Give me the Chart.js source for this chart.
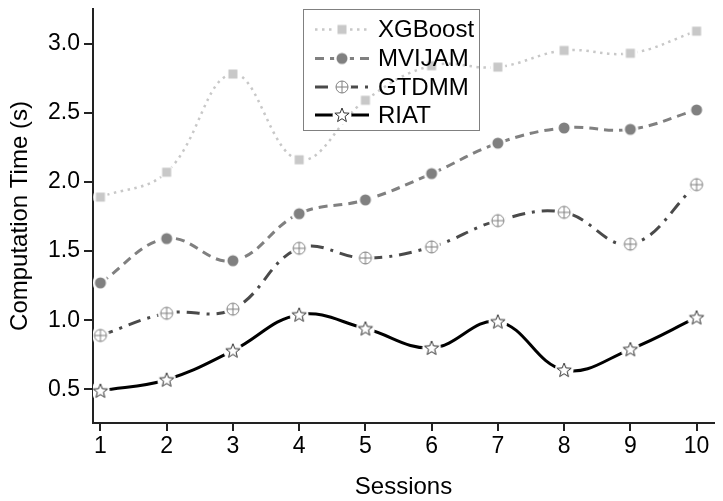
<!DOCTYPE html>
<html><head><meta charset="utf-8">
<script src="https://cdn.jsdelivr.net/npm/chart.js@4/dist/chart.umd.min.js"></script>
<style>html,body{margin:0;padding:0;background:#fff;} #wrap{width:723px;height:501px;position:relative;}</style>
</head><body><div id="wrap"><canvas id="c" width="723" height="501"></canvas></div>
<script>
const sessions = [1, 2, 3, 4, 5, 6, 7, 8, 9, 10];
const xgboost = [1.89, 2.07, 2.78, 2.16, 2.59, 2.84, 2.83, 2.95, 2.93, 3.09];
const mvijam  = [1.27, 1.59, 1.43, 1.77, 1.87, 2.06, 2.28, 2.39, 2.38, 2.52];
const gtdmm   = [0.89, 1.05, 1.08, 1.52, 1.45, 1.53, 1.72, 1.78, 1.55, 1.98];
const riat    = [0.49, 0.57, 0.78, 1.04, 0.94, 0.80, 0.99, 0.64, 0.79, 1.02];
const yTicks = [0.5, 1.0, 1.5, 2.0, 2.5, 3.0];
const seriesNames = ['XGBoost', 'MVIJAM', 'GTDMM', 'RIAT'];

function makeMarker(kind) {
  const s = 24, c = document.createElement('canvas');
  c.width = s; c.height = s;
  const g = c.getContext('2d'), m = s / 2;
  g.fillStyle = '#fff';
  g.beginPath();
  const halo = {square: 7.5, circle: 8, cplus: 9, star: 9.5}[kind];
  g.arc(m, m, halo, 0, Math.PI * 2); g.fill();
  if (kind === 'square') {
    g.fillStyle = '#c8c8c8';
    g.fillRect(m - 4.5, m - 4.5, 9, 9);
  } else if (kind === 'circle') {
    g.fillStyle = '#808080';
    g.beginPath(); g.arc(m, m, 5.5, 0, Math.PI * 2); g.fill();
  } else if (kind === 'cplus') {
    g.strokeStyle = '#808080'; g.lineWidth = 1;
    g.beginPath(); g.arc(m, m, 6, 0, Math.PI * 2); g.stroke();
    g.beginPath(); g.moveTo(m - 6, m); g.lineTo(m + 6, m); g.moveTo(m, m - 6); g.lineTo(m, m + 6); g.stroke();
  } else if (kind === 'star') {
    g.strokeStyle = '#333'; g.lineWidth = 1; g.fillStyle = '#fff';
    g.beginPath();
    for (let i = 0; i < 10; i++) {
      const r = i % 2 === 0 ? 7.5 : 3.2;
      const a = -Math.PI / 2 + i * Math.PI / 5;
      const px = m + r * Math.cos(a), py = m + 0.5 + r * Math.sin(a);
      if (i === 0) g.moveTo(px, py); else g.lineTo(px, py);
    }
    g.closePath(); g.fill(); g.stroke();
  }
  return c;
}

const styles = [
  {color: '#c8c8c8', dash: [2.5, 4.5], width: 2.5, marker: makeMarker('square')},
  {color: '#808080', dash: [9, 6], width: 3, marker: makeMarker('circle')},
  {color: '#4a4a4a', dash: [13, 7, 3, 7], width: 3, marker: makeMarker('cplus')},
  {color: '#000000', dash: [], width: 3, marker: makeMarker('star')}
];
const seriesValues = [xgboost, mvijam, gtdmm, riat];

const datasets = seriesNames.map((name, i) => ({
  label: name,
  data: sessions.map((s, j) => ({x: s, y: seriesValues[i][j]})),
  borderColor: styles[i].color,
  borderDash: styles[i].dash,
  borderWidth: styles[i].width,
  pointStyle: styles[i].marker,
  pointRadius: 6,
  tension: 0.4,
  fill: false,
  order: 3 - i
}));

const legendPlugin = {
  id: 'boxLegend',
  afterDraw(chart) {
    const ctx = chart.ctx;
    ctx.save();
    ctx.setLineDash([]);
    ctx.strokeStyle = '#808080'; ctx.lineWidth = 1;
    ctx.strokeRect(303.5, 9.5, 176, 121);
    const rows = [29.5, 58.5, 87, 115];
    seriesNames.forEach((name, i) => {
      const y = rows[i];
      ctx.setLineDash(styles[i].dash);
      ctx.strokeStyle = styles[i].color; ctx.lineWidth = styles[i].width;
      ctx.beginPath(); ctx.moveTo(315, y); ctx.lineTo(369, y); ctx.stroke();
      ctx.setLineDash([]);
      const mk = styles[i].marker;
      ctx.drawImage(mk, 342 - mk.width / 2, y - mk.height / 2);
      ctx.fillStyle = '#000';
      ctx.font = '24px "Liberation Sans", Arial, sans-serif';
      ctx.textBaseline = 'middle'; ctx.textAlign = 'left';
      ctx.fillText(name, 378, y + 1);
    });
    ctx.restore();
  }
};

new Chart(document.getElementById('c'), {
  type: 'line',
  data: {datasets},
  plugins: [legendPlugin],
  options: {
    responsive: false,
    animation: false,
    devicePixelRatio: 1,
    layout: {padding: {top: 8, left: 0, right: 0, bottom: 0}},
    plugins: {legend: {display: false}, tooltip: {enabled: false}},
    scales: {
      x: {
        type: 'linear', min: 0.888, max: 10.263,
        afterBuildTicks: sc => { sc.ticks = sessions.map(v => ({value: v})); },
        afterFit: sc => { sc.height = 78; sc.paddingLeft = 0; sc.paddingRight = 0; },
        ticks: {color: '#000', font: {family: '"Liberation Sans", Arial, sans-serif', size: 23}, padding: 2, autoSkip: false, maxRotation: 0,
          callback: v => String(v)},
        grid: {drawOnChartArea: false, drawTicks: true, tickLength: 8, color: '#222', lineWidth: 2},
        border: {display: true, color: '#222', width: 2},
        title: {display: true, text: 'Sessions', color: '#000', font: {family: '"Liberation Sans", Arial, sans-serif', size: 24}, padding: {top: 0, bottom: -1}}
      },
      y: {
        type: 'linear', min: 0.257, max: 3.25,
        afterBuildTicks: sc => { sc.ticks = yTicks.map(v => ({value: v})); },
        afterFit: sc => { sc.width = 93; sc.paddingTop = 0; sc.paddingBottom = 0; },
        ticks: {color: '#000', font: {family: '"Liberation Sans", Arial, sans-serif', size: 23}, padding: 4,
          callback: v => Number(v).toFixed(1)},
        grid: {drawOnChartArea: false, drawTicks: true, tickLength: 9, color: '#222', lineWidth: 2},
        border: {display: true, color: '#222', width: 2},
        title: {display: true, text: 'Computation Time (s)', color: '#000', font: {family: '"Liberation Sans", Arial, sans-serif', size: 24}, padding: {top: 6, bottom: 0}}
      }
    }
  }
});
</script></body></html>
